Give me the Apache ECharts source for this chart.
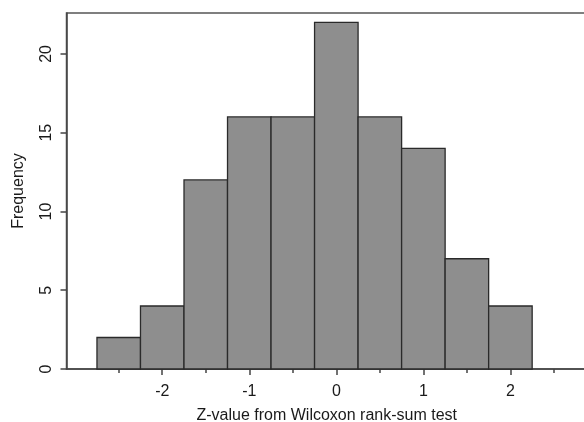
<!DOCTYPE html>
<html>
<head>
<meta charset="utf-8">
<script src="https://cdn.jsdelivr.net/npm/echarts@6/dist/echarts.min.js"></script>
<style>
  html, body { margin: 0; padding: 0; background: #fff; }
  #chart { width: 584px; height: 422px; }
</style>
</head>
<body>
<div id="chart"></div>
<script>
// histogram bins (width 0.5)
var binStart = [-2.75, -2.25, -1.75, -1.25, -0.75, -0.25, 0.25, 0.75, 1.25, 1.75];
var binEnd   = [-2.25, -1.75, -1.25, -0.75, -0.25, 0.25, 0.75, 1.25, 1.75, 2.25];
var counts   = [2, 4, 12, 16, 16, 22, 16, 14, 7, 4];
var xTicks = [-2, -1, 0, 1, 2];
var xMinorTicks = [-2.5, -1.5, -0.5, 0.5, 1.5, 2.5];
var yTicks = [0, 5, 10, 15, 20];

var data = [];
for (var i = 0; i < counts.length; i++) {
    data.push([binStart[i], binEnd[i], counts[i]]);
}

var font = 'Liberation Sans, Arial, sans-serif';
var myChart = echarts.init(document.getElementById('chart'));

myChart.setOption({
    animation: false,
    grid: {
        left: 66.5, top: 13, right: -3, bottom: 53,
        outerBoundsMode: 'none',
        show: true, borderColor: '#555', borderWidth: 1.5
    },
    xAxis: [{
        type: 'value', min: -3.1, max: 2.88,
        axisLine: { show: true, onZero: false, lineStyle: { color: '#444', width: 1.5 } },
        axisTick: { show: true, length: 6, customValues: xTicks, lineStyle: { color: '#444', width: 1.5 } },
        axisLabel: { customValues: xTicks, margin: 15, color: '#1a1a1a', fontSize: 16, fontFamily: font },
        splitLine: { show: false },
        name: 'Z-value from Wilcoxon rank-sum test',
        nameLocation: 'middle', nameGap: 39,
        nameTextStyle: { color: '#1a1a1a', fontSize: 16, fontFamily: font }
    }, {
        type: 'value', min: -3.1, max: 2.88, position: 'bottom',
        axisLine: { show: false },
        axisTick: { show: true, length: 4, customValues: xMinorTicks, lineStyle: { color: '#444', width: 1.5 } },
        axisLabel: { show: false },
        splitLine: { show: false }
    }],
    yAxis: {
        type: 'value', min: 0, max: 22.6,
        axisLine: { show: true, onZero: false, lineStyle: { color: '#444', width: 1.5 } },
        axisTick: { show: true, length: 6, customValues: yTicks, lineStyle: { color: '#444', width: 1.5 } },
        axisLabel: { customValues: yTicks, rotate: 90, margin: 12, color: '#1a1a1a', fontSize: 16, fontFamily: font },
        splitLine: { show: false },
        name: 'Frequency',
        nameLocation: 'middle', nameGap: 40,
        nameTextStyle: { color: '#1a1a1a', fontSize: 16, fontFamily: font }
    },
    series: [{
        type: 'custom',
        xAxisIndex: 0,
        data: data,
        renderItem: function (params, api) {
            var p0 = api.coord([api.value(0), api.value(2)]);
            var p1 = api.coord([api.value(1), 0]);
            return {
                type: 'rect',
                shape: { x: p0[0], y: p0[1], width: p1[0] - p0[0], height: p1[1] - p0[1] },
                style: { fill: '#8e8e8e', stroke: '#2a2a2a', lineWidth: 1.3 }
            };
        }
    }]
});
</script>
</body>
</html>
